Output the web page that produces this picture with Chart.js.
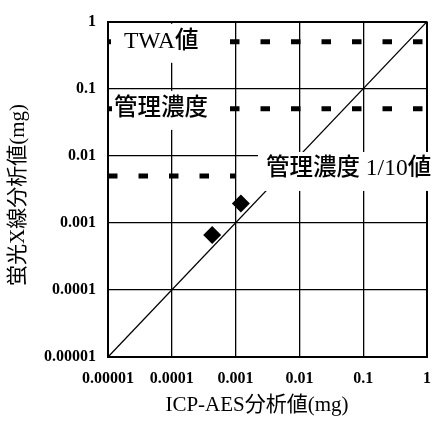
<!DOCTYPE html>
<html>
<head>
<meta charset="utf-8">
<script src="https://cdn.jsdelivr.net/npm/chart.js@4"></script>
<style>
  html, body { margin: 0; padding: 0; background: #fff; }
  canvas { display: block; }
</style>
</head>
<body>
<canvas id="c" width="443" height="422"></canvas>
<script>
// Decade ticks shared by both log axes
const tickValues = [0.00001, 0.0001, 0.001, 0.01, 0.1, 1];
const tickLabels = ['0.00001', '0.0001', '0.001', '0.01', '0.1', '1'];

// Measured samples: ICP-AES result vs. fluorescent X-ray result (mg)
const icpValues = [0.00043, 0.00121];
const xrfValues = [0.00066, 0.00195];

// 1:1 reference line end points
const identityX = [0.00001, 1];

// Reference levels (mg) and the x-span each dashed line covers
const levelNames = ['TWA値', '管理濃度', '管理濃度 1/10値'];
const levelValues = [0.5, 0.05, 0.005];
const levelStartX = [0.00001, 0.00001, 0.00001];
const levelEndX = [1, 1, 0.001];

const SERIF_CJK = '"Liberation Serif", "Noto Sans CJK JP", serif';

const levelDatasets = levelValues.map((v, i) => ({
  type: 'line',
  label: levelNames[i],
  data: [{ x: levelStartX[i], y: v }, { x: levelEndX[i], y: v }],
  borderColor: '#000',
  borderWidth: 5,
  borderDash: [9.5, 21],
  borderCapStyle: 'butt',
  pointRadius: 0,
  fill: false,
  order: 2
}));

// Label boxes: white-filled text tags sitting on the reference levels
const tagStyle = [
  { x0: 3, x1: 120, up: 18, down: 21, textX: 16, textDy: 0 },
  { x0: 4, x1: 120, up: 18, down: 21, textX: 6, textDy: 0 },
  { x0: 150, x1: 323, up: 24, down: 15, textX: 158, textDy: -7 }
];

const levelTags = {
  id: 'levelTags',
  afterDatasetsDraw(chart) {
    const { ctx, chartArea, scales } = chart;
    ctx.save();
    levelValues.forEach((v, i) => {
      const s = tagStyle[i];
      const y = scales.y.getPixelForValue(v);
      const left = chartArea.left + s.x0;
      const right = chartArea.left + s.x1;
      ctx.fillStyle = '#fff';
      ctx.fillRect(left, y - s.up, right - left, s.up + s.down);
      ctx.fillStyle = '#000';
      ctx.font = '500 23.5px ' + SERIF_CJK;
      ctx.textAlign = 'left';
      ctx.textBaseline = 'middle';
      ctx.fillText(levelNames[i], chartArea.left + s.textX, y + s.textDy);
    });
    ctx.restore();
  }
};

// Axis titles
const axisTitles = {
  id: 'axisTitles',
  afterDraw(chart) {
    const { ctx } = chart;
    ctx.save();
    ctx.fillStyle = '#000';
    ctx.font = '21px ' + SERIF_CJK;
    ctx.textAlign = 'center';
    ctx.textBaseline = 'middle';
    ctx.fillText('ICP-AES分析値(mg)', 257, 405);
    ctx.translate(18, 195);
    ctx.rotate(-Math.PI / 2);
    ctx.fillText('蛍光X線分析値(mg)', 0, 0);
    ctx.restore();
  }
};

const decadeTicks = scale => {
  scale.ticks = tickValues.map(v => ({ value: v }));
};

const edgeWidth = ctx => (ctx.index === 0 || ctx.index === tickValues.length - 1) ? 2 : 1.3;

const tickFont = { family: '"Liberation Serif", serif', size: 16, weight: 'bold' };

new Chart(document.getElementById('c'), {
  type: 'scatter',
  data: {
    datasets: [
      {
        type: 'scatter',
        label: '測定値',
        data: icpValues.map((x, i) => ({ x, y: xrfValues[i] })),
        pointStyle: 'rectRot',
        pointRadius: 9,
        pointHoverRadius: 9,
        backgroundColor: '#000',
        borderColor: '#000',
        borderWidth: 0,
        order: 0
      },
      {
        type: 'line',
        label: '1:1',
        data: identityX.map(x => ({ x, y: x })),
        borderColor: '#000',
        borderWidth: 1.3,
        pointRadius: 0,
        fill: false,
        order: 1
      },
      ...levelDatasets
    ]
  },
  options: {
    responsive: false,
    animation: false,
    devicePixelRatio: 1,
    layout: { padding: { left: 0, top: 14, right: 11, bottom: 0 } },
    plugins: {
      legend: { display: false },
      tooltip: { enabled: false }
    },
    scales: {
      x: {
        type: 'logarithmic',
        min: 0.00001,
        max: 1,
        afterBuildTicks: decadeTicks,
        afterFit: s => { s.height = 65; },
        border: { display: true, color: '#000', width: 2 },
        grid: { color: '#000', lineWidth: edgeWidth, drawTicks: false },
        ticks: {
          autoSkip: false,
          maxRotation: 0,
          padding: 12,
          color: '#000',
          font: tickFont,
          callback: (v, i) => tickLabels[i]
        }
      },
      y: {
        type: 'logarithmic',
        min: 0.00001,
        max: 1,
        afterBuildTicks: decadeTicks,
        afterFit: s => { s.width = 108; },
        border: { display: true, color: '#000', width: 2 },
        grid: { color: '#000', lineWidth: edgeWidth, drawTicks: false },
        ticks: {
          autoSkip: false,
          padding: 12,
          color: '#000',
          font: tickFont,
          callback: (v, i) => tickLabels[i]
        }
      }
    }
  },
  plugins: [levelTags, axisTitles]
});
</script>
</body>
</html>
